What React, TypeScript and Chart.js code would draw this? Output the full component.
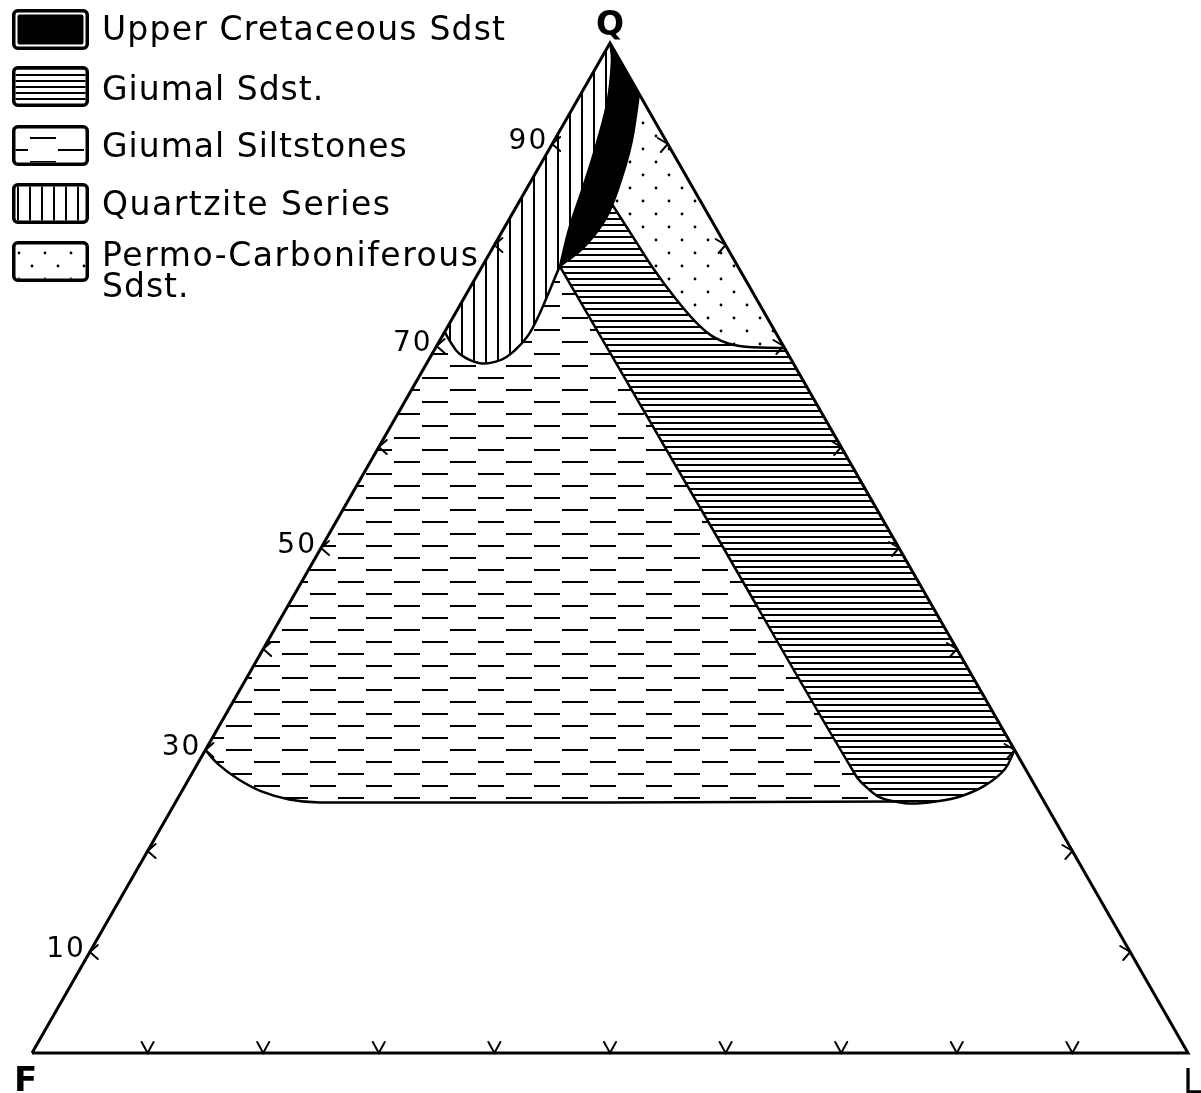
import React, { useEffect, useRef } from 'react';
import { Chart, registerables } from 'chart.js';

Chart.register(...registerables);

// ---------- data (ternary percentages, each point = [Q, L]; F = 100 - Q - L) ----------
const triangle: number[][] = [[0, 0], [0, 100], [100, 0], [0, 0]];
const tickValues = [10, 20, 30, 40, 50, 60, 70, 80, 90];
const labelledTicks = [10, 30, 50, 70, 90];
const vertexNames = { top: 'Q', left: 'F', right: 'L' };
const legendNames = ['Upper Cretaceous Sdst', 'Giumal Sdst.', 'Giumal Siltstones', 'Quartzite Series', 'Permo-Carboniferous', 'Sdst.'];

// lower boundary of the Quartzite Series field (from the Q-F side to the junction point)
const quartziteBase: number[][] = [[71.4, 0], [70.5, 0.9], [69.2, 2.4], [68.3, 4.6], [68.6, 6.2], [69.6, 7.0], [71.1, 7.4], [73.3, 7.3], [75.7, 7.0], [77.9, 6.7]];
// Upper Cretaceous field, left boundary (junction -> Q apex)
const cretaceousLeft: number[][] = [[77.9, 6.7], [81.8, 5.6], [85.7, 4.8], [90.1, 3.8], [94.4, 2.6], [98.3, 1.0], [100, 0]];
// Upper Cretaceous field, right boundary (Q-L side -> junction)
const cretaceousRight: number[][] = [[95, 5], [92.9, 5.8], [90.4, 6.7], [87.9, 7.4], [84.0, 8.2], [82.0, 8.3], [79.7, 7.8], [77.9, 6.7]];
// lower boundary of the Permo-Carboniferous field
const permoBase: number[][] = [[84.0, 8.2], [80.5, 11.9], [77.5, 15.1], [74.8, 18.2], [72.4, 21.2], [70.8, 23.7], [70.0, 26.2], [69.8, 30.2]];
// Giumal Sdst left boundary and rounded base
const giumalLeft: number[][] = [[77.9, 6.7], [52.5, 32.3], [27.5, 57.5]];
const giumalBase: number[][] = [[27.5, 57.5], [26.2, 59.2], [25.3, 60.7], [24.9, 62.2], [24.7, 63.8], [24.9, 65.7], [25.4, 67.6], [26.5, 69.2], [28.1, 70.1], [30, 70]];
// Giumal Siltstones base
const siltBase: number[][] = [[24.9, 62.2], [24.8, 12.5], [25.1, 9.7], [25.9, 6.9], [27.1, 4.3], [28.6, 1.8], [30, 0]];

// ---------- layout constants ----------
const W = 1201;
const H = 1093;
const PAD = { left: 32, top: 43, right: 13, bottom: 40 };
const LEGEND = { x: 12, w: 77, h: 41, boxTops: [9, 66, 125, 183, 241], textX: 102, baselines: [40, 100, 157, 215, 266, 297], widths: [403, 213, 293, 288, 376, 75] };
const FONT = '"DejaVu Sans", Verdana, sans-serif';

const xy = (pts: number[][]) => pts.map(([q, l]) => ({ x: l + q / 2, y: q }));

function makePattern(kind: string): CanvasPattern | string {
  const c = document.createElement('canvas');
  const g = c.getContext('2d')!;
  if (kind === 'hlines') {
    c.width = 8; c.height = 6;
    g.fillStyle = '#000';
    g.fillRect(0, 2, 8, 2);
  } else if (kind === 'vlines') {
    c.width = 12; c.height = 8;
    g.fillStyle = '#000';
    g.fillRect(5, 0, 2, 8);
  } else if (kind === 'dashes') {
    c.width = 56; c.height = 24;
    g.fillStyle = '#000';
    g.fillRect(2, 5, 26, 2);
    g.fillRect(30, 17, 26, 2);
  } else if (kind === 'dots') {
    c.width = 26; c.height = 26;
    g.fillStyle = '#000';
    g.beginPath(); g.arc(6, 6, 1.4, 0, Math.PI * 2); g.fill();
    g.beginPath(); g.arc(19, 19, 1.4, 0, Math.PI * 2); g.fill();
  } else {
    return '#000';
  }
  return g.createPattern(c, 'repeat')!;
}

export default function App() {
  const ref = useRef<HTMLCanvasElement>(null);

  useEffect(() => {
    const canvas = ref.current!;
    const pats = {
      solid: '#000',
      hlines: makePattern('hlines'),
      dashes: makePattern('dashes'),
      vlines: makePattern('vlines'),
      dots: makePattern('dots'),
    };
    const legendFills = [pats.solid, pats.hlines, pats.dashes, pats.vlines, pats.dots];

    // polygons assembled from the shared boundaries
    const cretaceousPoly = [[100, 0], ...cretaceousRight, ...cretaceousLeft.slice(1)];
    const quartzitePoly = [[100, 0], ...quartziteBase, ...cretaceousLeft.slice(1)];
    const permoPoly = [[95, 5], ...permoBase.slice().reverse(), ...cretaceousRight.slice(0, 4).reverse()];
    const giumalPoly = [...permoBase, ...giumalBase.slice().reverse(), ...giumalLeft.slice().reverse().slice(1), ...cretaceousRight.slice(4).reverse().slice(1)];
    const siltPoly = [...giumalLeft, ...giumalBase.slice(1, 4), ...siltBase.slice(1), ...quartziteBase];

    const area = (pts: number[][], bg: any, label: string) => ({
      label, data: xy(pts), showLine: true, borderWidth: 0, borderColor: 'rgba(0,0,0,0)',
      backgroundColor: bg, pointRadius: 0, fill: 'shape', tension: 0, clip: false, order: 5,
    });
    const outline = (pts: number[][], width: number, tension: number) => ({
      label: 'boundary', data: xy(pts), showLine: true, borderColor: '#000', borderWidth: width,
      backgroundColor: '#000', pointRadius: 0, fill: false, tension, clip: false, order: 0,
    });

    const datasets: any[] = [
      outline(triangle, 3, 0),
      outline(quartziteBase, 2.5, 0.4),
      outline(cretaceousLeft, 2, 0.4),
      outline(cretaceousRight, 2.5, 0.4),
      outline(permoBase, 2.5, 0.4),
      outline([...giumalLeft, ...giumalBase.slice(1)], 2.5, 0.4),
      outline(siltBase, 2.5, 0.4),
      area(cretaceousPoly, pats.solid, legendNames[0]),
      area(giumalPoly, pats.hlines, legendNames[1]),
      area(siltPoly, pats.dashes, legendNames[2]),
      area(quartzitePoly, pats.vlines, legendNames[3]),
      area(permoPoly, pats.dots, legendNames[4]),
    ];

    const spaced = (ctx: any, text: string, x: number, y: number, width: number) => {
      ctx.letterSpacing = '0px';
      const w = ctx.measureText(text).width;
      const n = [...text].length;
      const sp = n > 1 ? Math.max(1, (width - w) / (n - 1)) : 0;
      ctx.letterSpacing = sp + 'px';
      ctx.fillText(text, x, y);
      ctx.letterSpacing = '0px';
    };

    const decor = {
      id: 'ternaryDecor',
      afterDatasetsDraw(chart: any) {
        const ctx = chart.ctx;
        const sx = chart.scales.x;
        const sy = chart.scales.y;
        const P = (q: number, l: number) => [sx.getPixelForValue(l + q / 2), sy.getPixelForValue(q)];
        ctx.save();
        ctx.strokeStyle = '#000';
        ctx.fillStyle = '#000';
        ctx.lineWidth = 2;
        ctx.lineCap = 'round';
        // tick chevrons
        tickValues.forEach((t) => {
          let [x, y] = P(t, 0); // Q-F side
          ctx.beginPath(); ctx.moveTo(x + 8, y - 7); ctx.lineTo(x, y); ctx.lineTo(x + 8, y + 7); ctx.stroke();
          [x, y] = P(t, 100 - t); // Q-L side
          ctx.beginPath(); ctx.moveTo(x - 10, y - 6); ctx.lineTo(x, y); ctx.lineTo(x - 7, y + 8); ctx.stroke();
          [x, y] = P(0, t); // F-L side
          ctx.beginPath(); ctx.moveTo(x - 6, y - 11); ctx.lineTo(x, y); ctx.lineTo(x + 6, y - 11); ctx.stroke();
        });
        // tick labels
        ctx.font = '28px ' + FONT;
        ctx.textAlign = 'right';
        ctx.textBaseline = 'middle';
        labelledTicks.forEach((t) => {
          const [x, y] = P(t, 0);
          ctx.letterSpacing = '2px';
          ctx.fillText(String(t), x - 4, y - 2);
        });
        ctx.letterSpacing = '0px';
        // vertex labels
        ctx.textBaseline = 'alphabetic';
        ctx.textAlign = 'center';
        ctx.font = 'bold 33px ' + FONT;
        const [qx, qy] = P(100, 0);
        ctx.fillText(vertexNames.top, qx, qy - 8);
        ctx.textAlign = 'left';
        ctx.font = 'bold 34px ' + FONT;
        const [fx, fy] = P(0, 0);
        ctx.fillText(vertexNames.left, fx - 18, fy + 38);
        ctx.font = '34px ' + FONT;
        const [lx, ly] = P(0, 100);
        ctx.fillText(vertexNames.right, lx - 5, ly + 40);

        // legend
        legendFills.forEach((fillStyle, i) => {
          const x = LEGEND.x, y = LEGEND.boxTops[i], w = LEGEND.w, h = LEGEND.h;
          ctx.save();
          ctx.lineWidth = 3.5;
          ctx.strokeStyle = '#000';
          ctx.beginPath();
          ctx.roundRect(x + 1.75, y + 1.75, w - 3.5, h - 3.5, 4);
          ctx.stroke();
          ctx.beginPath();
          if (i === 0) {
            ctx.roundRect(x + 5.5, y + 5.5, w - 11, h - 11, 2);
            ctx.fillStyle = '#000';
          } else {
            ctx.rect(x + 3.5, y + 3.5, w - 7, h - 7);
            ctx.fillStyle = fillStyle;
          }
          ctx.fill();
          ctx.restore();
        });
        ctx.fillStyle = '#000';
        ctx.font = '33px ' + FONT;
        ctx.textAlign = 'left';
        ctx.textBaseline = 'alphabetic';
        legendNames.forEach((name, i) => {
          spaced(ctx, name, LEGEND.textX, LEGEND.baselines[i], LEGEND.widths[i]);
        });
        ctx.restore();
      },
    };

    const chart = new Chart(canvas, {
      type: 'scatter',
      data: { datasets },
      options: {
        animation: false,
        responsive: false,
        layout: { padding: PAD },
        scales: {
          x: { type: 'linear', min: 0, max: 100, display: false },
          y: { type: 'linear', min: 0, max: 100, display: false },
        },
        plugins: { legend: { display: false }, tooltip: { enabled: false } },
        elements: { point: { radius: 0 } },
      },
      plugins: [decor],
    } as any);
    return () => chart.destroy();
  }, []);

  return (
    <canvas
      ref={ref}
      width={W}
      height={H}
      style={{ position: 'absolute', left: 0, top: 0, width: W, height: H, background: '#fff' }}
    />
  );
}
